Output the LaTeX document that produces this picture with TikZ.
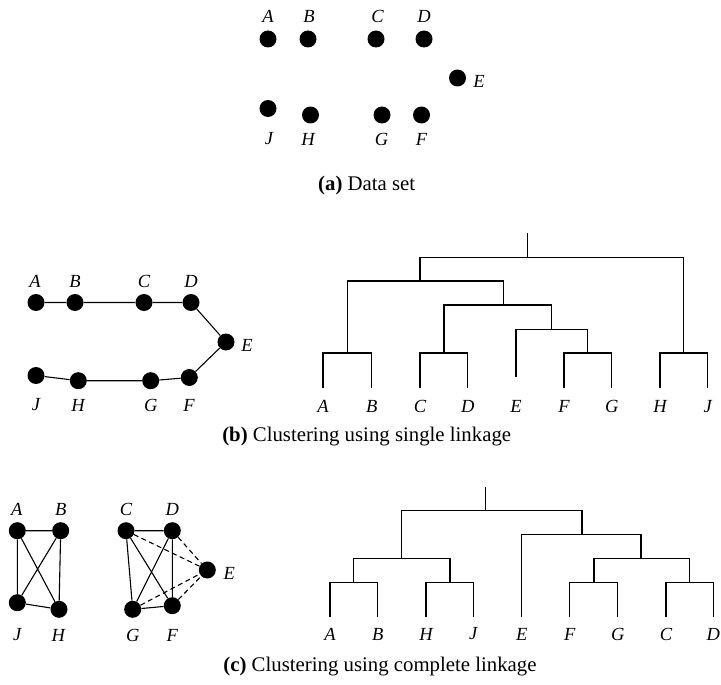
\documentclass[tikz,border=0pt]{standalone}
\usepackage{fontspec}
\setmainfont{Liberation Serif}
\begin{document}
\begin{tikzpicture}[x=1pt,y=-1pt,
  dot/.style={circle,fill=black,inner sep=0pt,minimum size=17pt},
  lbl/.style={inner sep=0pt,font=\fontsize{18.5}{20}\selectfont\itshape},
  captxt/.style={inner sep=0pt,font=\fontsize{20.8}{23}\selectfont},
  segline/.style={line width=1.1pt},
  dashseg/.style={line width=1.1pt,dash pattern=on 5pt off 3.5pt},
  treeline/.style={line width=1.1pt}]
\useasboundingbox (0,0) rectangle (721,685);
% ---------- (a) ----------
\node[dot] (aA) at (268,39) {};
\node[dot] (aB) at (308,39) {};
\node[dot] (aC) at (376,39) {};
\node[dot] (aD) at (424,39) {};
\node[dot] (aE) at (457.5,78) {};
\node[dot] (aJ) at (268,108.5) {};
\node[dot] (aH) at (310.5,115) {};
\node[dot] (aG) at (382,115) {};
\node[dot] (aF) at (421.5,115) {};
\node[lbl] (aAl) at (268,16.5) {A};
\node[lbl] (aBl) at (309,16.5) {B};
\node[lbl] (aCl) at (377.5,16.5) {C};
\node[lbl] (aDl) at (424,16.5) {D};
\node[lbl] (aEl) at (479,81.5) {E};
\node[lbl] (aJl) at (269,139) {J};
\node[lbl] (aHl) at (308,139) {H};
\node[lbl] (aGl) at (381.5,139) {G};
\node[lbl] (aFl) at (421.5,139) {F};
\node[captxt] (capa) at (366.7,185) {\textbf{(a)} Data set};
% ---------- (b) left ----------
\node[dot] (bA) at (36,302.5) {};
\node[dot] (bB) at (75,302.5) {};
\node[dot] (bC) at (144,302.5) {};
\node[dot] (bD) at (191,302.5) {};
\node[dot] (bE) at (226,342) {};
\node[dot] (bJ) at (36,375.5) {};
\node[dot] (bH) at (78.3,380.7) {};
\node[dot] (bG) at (150.7,380.7) {};
\node[dot] (bF) at (189.3,377.5) {};
\draw[segline] (bA) -- (bB) -- (bC) -- (bD) -- (bE) -- (bF) -- (bG) -- (bH) -- (bJ);
\node[lbl] (bAl) at (35,281) {A};
\node[lbl] (bBl) at (75,281) {B};
\node[lbl] (bCl) at (144,281) {C};
\node[lbl] (bDl) at (191,281) {D};
\node[lbl] (bEl) at (247,345.5) {E};
\node[lbl] (bJl) at (36,405) {J};
\node[lbl] (bHl) at (78,405) {H};
\node[lbl] (bGl) at (150.7,405) {G};
\node[lbl] (bFl) at (189,405) {F};
% ---------- (b) dendrogram ----------
\coordinate (sA) at (323,388.3);
\coordinate (sB) at (371.7,388.3);
\coordinate (sC) at (420,388.3);
\coordinate (sD) at (467.7,388.3);
\coordinate (sE) at (516,376.7);
\coordinate (sF) at (564,388.3);
\coordinate (sG) at (611.7,388.3);
\coordinate (sH) at (660,388.3);
\coordinate (sJ) at (707.7,388.3);
\coordinate (sAB) at (347.7,353);
\coordinate (sCD) at (444,353);
\coordinate (sFG) at (587.7,353);
\coordinate (sHJ) at (683.5,353);
\coordinate (sEFG) at (551.7,329.3);
\coordinate (sCG) at (503.7,305);
\coordinate (sAG) at (420,281);
\coordinate (sR) at (527.7,257.3);
\coordinate (sTop) at (527.7,233.3);
\draw[treeline] (sA) |- (sAB) -| (sB);
\draw[treeline] (sC) |- (sCD) -| (sD);
\draw[treeline] (sF) |- (sFG) -| (sG);
\draw[treeline] (sH) |- (sHJ) -| (sJ);
\draw[treeline] (sE) |- (sEFG) -| (sFG);
\draw[treeline] (sCD) |- (sCG) -| (sEFG);
\draw[treeline] (sAB) |- (sAG) -| (sCG);
\draw[treeline] (sAG) |- (sR) -| (sHJ);
\draw[treeline] (sR) -- (sTop);
\foreach \n/\x in {A/323,B/371.7,C/420,D/467.7,E/516,F/564,G/611.7,H/660,J/707.7}
  \node[lbl] (sl\n) at (\x,406.7) {\n};
\node[captxt] (capb) at (366.7,436.5) {\textbf{(b)} Clustering using single linkage};
% ---------- (c) left ----------
\node[dot] (cA) at (17.3,530.7) {};
\node[dot] (cB) at (60.7,530.7) {};
\node[dot] (cJ) at (17.3,602.7) {};
\node[dot] (cH) at (59,609.3) {};
\node[dot] (cC) at (126,530.7) {};
\node[dot] (cD) at (172.3,530.7) {};
\node[dot] (cE) at (207.3,570) {};
\node[dot] (cG) at (132.7,609.3) {};
\node[dot] (cF) at (172.3,605.7) {};
\draw[segline] (cA) -- (cB) (cA) -- (cJ) (cA) -- (cH) (cB) -- (cJ) (cB) -- (cH) (cJ) -- (cH);
\draw[segline] (cC) -- (cD) (cC) -- (cG) (cC) -- (cF) (cD) -- (cG) (cD) -- (cF) (cG) -- (cF);
\draw[dashseg] (cC) -- (cE) (cD) -- (cE) (cG) -- (cE) (cF) -- (cE);
\node[lbl] (cAl) at (16.7,509.5) {A};
\node[lbl] (cBl) at (60.7,509.5) {B};
\node[lbl] (cCl) at (126,509.5) {C};
\node[lbl] (cDl) at (172.3,509.5) {D};
\node[lbl] (cEl) at (229.3,573.5) {E};
\node[lbl] (cJl) at (17.3,635) {J};
\node[lbl] (cHl) at (58.3,635) {H};
\node[lbl] (cGl) at (132.7,635) {G};
\node[lbl] (cFl) at (172.3,635) {F};
% ---------- (c) dendrogram ----------
\coordinate (kA) at (330,617.3);
\coordinate (kB) at (377.7,617.3);
\coordinate (kH) at (426,617.3);
\coordinate (kJ) at (473.3,617.3);
\coordinate (kE) at (521.7,617.3);
\coordinate (kF) at (569.7,617.3);
\coordinate (kG) at (617.7,617.3);
\coordinate (kC) at (666,617.3);
\coordinate (kD) at (713.3,617.3);
\coordinate (kAB) at (353.3,582.7);
\coordinate (kHJ) at (450,582.7);
\coordinate (kFG) at (594,582.7);
\coordinate (kCD) at (689.3,582.7);
\coordinate (kABHJ) at (401.7,558.3);
\coordinate (kFGCD) at (641,558.3);
\coordinate (kEFGCD) at (582,534.7);
\coordinate (kR) at (485.7,510.7);
\coordinate (kTop) at (485.7,486.7);
\draw[treeline] (kA) |- (kAB) -| (kB);
\draw[treeline] (kH) |- (kHJ) -| (kJ);
\draw[treeline] (kF) |- (kFG) -| (kG);
\draw[treeline] (kC) |- (kCD) -| (kD);
\draw[treeline] (kAB) |- (kABHJ) -| (kHJ);
\draw[treeline] (kFG) |- (kFGCD) -| (kCD);
\draw[treeline] (kE) |- (kEFGCD) -| (kFGCD);
\draw[treeline] (kABHJ) |- (kR) -| (kEFGCD);
\draw[treeline] (kR) -- (kTop);
\foreach \n/\x in {A/330,B/377.7,H/426,J/473.3,E/521.7,F/569.7,G/617.7,C/666,D/713.3}
  \node[lbl] (kl\n) at (\x,634) {\n};
\node[captxt] (capc) at (380,666.5) {\textbf{(c)} Clustering using complete linkage};
\end{tikzpicture}
\end{document}
